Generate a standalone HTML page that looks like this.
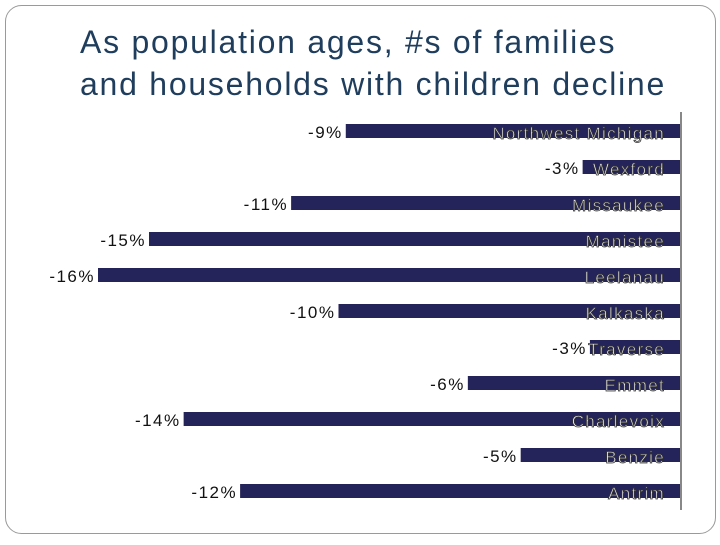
<!DOCTYPE html>
<html><head><meta charset="utf-8"><style>
body{margin:0;width:720px;height:540px;background:#fff;overflow:hidden;font-family:"Liberation Sans",sans-serif}
</style></head><body>
<svg width="720" height="540">
<rect x="5.5" y="5.5" width="710" height="528" rx="16" fill="#fff" stroke="#9a9a9a" stroke-width="1"/>
<text x="80" y="53" font-size="32" letter-spacing="1.75" fill="#1f3d5c">As population ages, #s of families</text>
<text x="80" y="95" font-size="32" letter-spacing="1.75" fill="#1f3d5c">and households with children decline</text>
<g id="chart"></g>
<line x1="681" y1="112" x2="681" y2="510" stroke="#888" stroke-width="2"/>
</svg>
<script>
const categories=["Northwest Michigan","Wexford","Missaukee","Manistee","Leelanau","Kalkaska","Traverse","Emmet","Charlevoix","Benzie","Antrim"];
const values=[-9.2,-2.7,-10.7,-14.6,-16.0,-9.4,-2.5,-5.85,-13.65,-4.4,-12.1];
const valueLabels=["-9%","-3%","-11%","-15%","-16%","-10%","-3%","-6%","-14%","-5%","-12%"];
const NS="http://www.w3.org/2000/svg";
const x0=681, pxPer=583/16;
function xs(v){return x0+v*pxPer;}
function ys(i){return 124+i*36;}
const g=document.getElementById('chart');
categories.forEach((c,i)=>{
  const y=ys(i), xl=xs(values[i]);
  const r=document.createElementNS(NS,'rect');
  r.setAttribute('x',xl);r.setAttribute('y',y);r.setAttribute('width',x0-xl);r.setAttribute('height',14);r.setAttribute('fill','#25245a');
  
  
  g.appendChild(r);
  const t=document.createElementNS(NS,'text');
  t.setAttribute('x',665);t.setAttribute('y',y+15);t.setAttribute('text-anchor','end');t.setAttribute('font-size','17');
  t.setAttribute('letter-spacing','1.3');
  t.setAttribute('fill','#fff');t.setAttribute('stroke','#333');t.setAttribute('stroke-width','0.8');
  t.textContent=c;
  
  
  g.appendChild(t);
  const v=document.createElementNS(NS,'text');
  v.setAttribute('x',xl-3);v.setAttribute('y',y+14);v.setAttribute('text-anchor','end');v.setAttribute('font-size','17');v.setAttribute('letter-spacing','1.5');v.setAttribute('fill','#111');
  v.textContent=valueLabels[i];
  
  
  g.appendChild(v);
});
</script>
</body></html>
